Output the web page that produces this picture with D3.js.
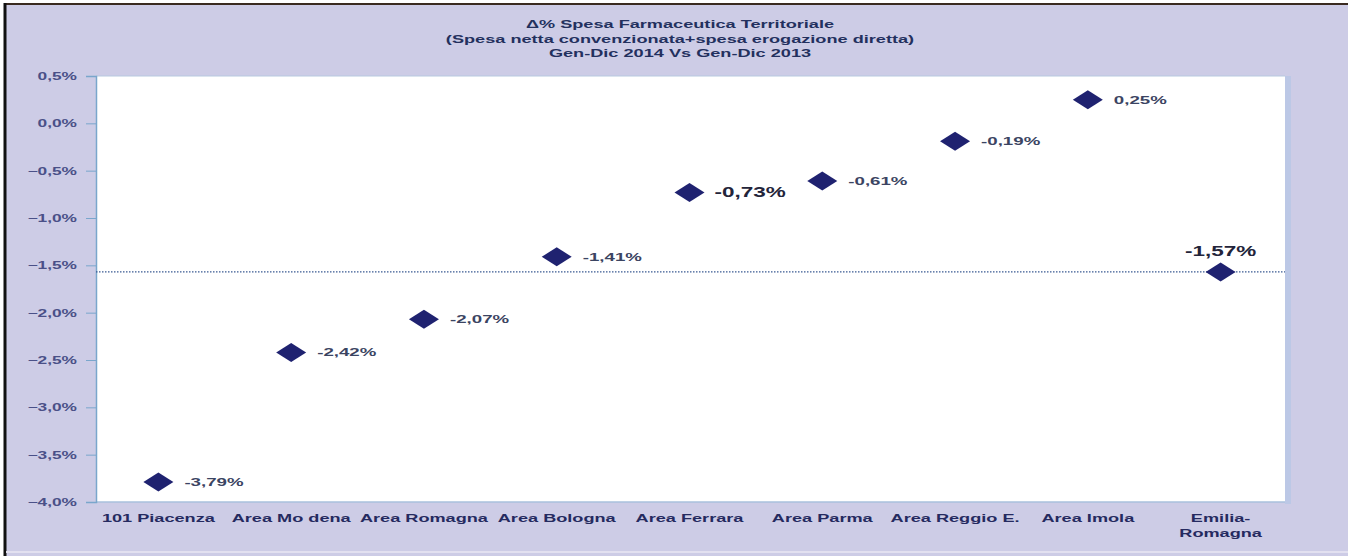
<!DOCTYPE html>
<html><head><meta charset="utf-8">
<script src="https://cdn.jsdelivr.net/npm/d3@7"></script>
<style>body{margin:0;background:#fff;}svg{display:block;}</style>
</head><body>
<svg id="c" width="1348" height="556"></svg>
<script>
const categories = ["101 Piacenza","Area Mo dena","Area Romagna","Area Bologna","Area Ferrara","Area Parma","Area Reggio E.","Area Imola","Emilia-Romagna"];
const values = [-3.79,-2.42,-2.07,-1.41,-0.73,-0.61,-0.19,0.25,-1.57];
const labels = ["-3,79%","-2,42%","-2,07%","-1,41%","-0,73%","-0,61%","-0,19%","0,25%","-1,57%"];
const avgValue = -1.57;
const yTicks = [0.5,0,-0.5,-1,-1.5,-2,-2.5,-3,-3.5,-4];
const titleLines = ["\u0394% Spesa Farmaceutica Territoriale","(Spesa netta convenzionata+spesa erogazione diretta)","Gen-Dic 2014  Vs Gen-Dic 2013"];

const FONT = "Liberation Sans, Arial, sans-serif";
const svg = d3.select("#c");
const W=1348,H=556;
const m={l:96,r:1285,t:76,b:502};
// background
svg.append("rect").attr("x",0).attr("y",0).attr("width",W).attr("height",H).attr("fill","#cdcce6");
svg.append("rect").attr("x",0).attr("y",0).attr("width",W).attr("height",3).attr("fill","#fff");
svg.append("rect").attr("x",0).attr("y",0).attr("width",4).attr("height",H).attr("fill","#fff");
svg.append("line").attr("x1",5).attr("x2",W).attr("y1",4).attr("y2",4).attr("stroke","#3a2a20").attr("stroke-width",2);
svg.append("line").attr("x1",5).attr("x2",5).attr("y1",3).attr("y2",H).attr("stroke","#111").attr("stroke-width",3);
svg.append("line").attr("x1",6).attr("x2",W).attr("y1",552).attr("y2",552).attr("stroke","#e2e0f0").attr("stroke-width",2);

const x = d3.scaleBand().domain(categories).range([92,1287]).paddingInner(0).paddingOuter(0);
const cx = c=>x(c)+x.bandwidth()/2;
const y = d3.scaleLinear().domain([-4,0.5]).range([m.b,m.t]);

svg.append("rect").attr("x",m.l).attr("y",m.t).attr("width",m.r-m.l).attr("height",m.b-m.t).attr("fill","#fff");
svg.append("rect").attr("x",m.r).attr("y",m.t).attr("width",6).attr("height",m.b-m.t+2).attr("fill","#bcc8e6");
svg.append("line").attr("x1",m.l).attr("x2",m.r).attr("y1",m.b).attr("y2",m.b).attr("stroke","#a9c0dc").attr("stroke-width",1.5);
svg.append("line").attr("x1",m.l).attr("x2",m.r).attr("y1",m.t).attr("y2",m.t).attr("stroke","#b7c9e0").attr("stroke-width",1);

// helper: horizontally stretched text
function stext(parent, x0, y0, str, size, sx, anchor, fill){
  return parent.append("text").attr("transform",`translate(${x0},${y0}) scale(${sx},1)`)
    .attr("text-anchor",anchor).attr("font-family",FONT).attr("font-weight","bold")
    .attr("font-size",size).attr("fill",fill).text(str);
}

// title
titleLines.forEach((s,i)=>stext(svg,680,28+i*14.5,s,11,1.65,"middle","#23305e"));

// y axis
const yAxis = d3.axisLeft(y).tickValues(yTicks).tickSize(10).tickFormat(d=>d3.format(".1f")(d).replace(".",",")+"%");
const ga = svg.append("g").attr("transform",`translate(${m.l},0)`).call(yAxis);
ga.select(".domain").attr("stroke","#7aa6cc").attr("stroke-width",1.5);
ga.selectAll(".tick line").attr("stroke","#7aa6cc");
ga.selectAll(".tick text").attr("font-family",FONT).attr("font-weight","bold")
  .attr("font-size",10.5).attr("fill","#4a5088").attr("x",-19/1.65).attr("transform","scale(1.65,1)");

// x labels
categories.forEach(c=>{
  const parts = c==="Emilia-Romagna" ? ["Emilia-","Romagna"] : [c];
  parts.forEach((p,i)=>stext(svg,cx(c),522+i*15,p,11,1.65,"middle","#252a60"));
});

// average dotted line
svg.append("line").attr("x1",m.l).attr("x2",m.r).attr("y1",y(avgValue)).attr("y2",y(avgValue))
  .attr("stroke","#3a5a92").attr("stroke-width",1.3).attr("stroke-dasharray","1.5,1.5");

// markers
svg.selectAll("path.pt").data(values).enter().append("path").attr("class","pt")
  .attr("d","M0,-9.5L15,0L0,9.5L-15,0Z").attr("fill","#1f2270")
  .attr("transform",(d,i)=>`translate(${cx(categories[i])},${y(d)})`);

// labels
values.forEach((v,i)=>{
  const big = (i===4||i===8);
  const px = cx(categories[i]), py = y(v);
  if(i===8) stext(svg,px,py-16,labels[i],15,1.5,"middle","#23243a");
  else if(big) stext(svg,px+25,py+5,labels[i],15,1.5,"start","#23243a");
  else stext(svg,px+26,py+4,labels[i],11,1.7,"start","#3b4462");
});
</script>
</body></html>
